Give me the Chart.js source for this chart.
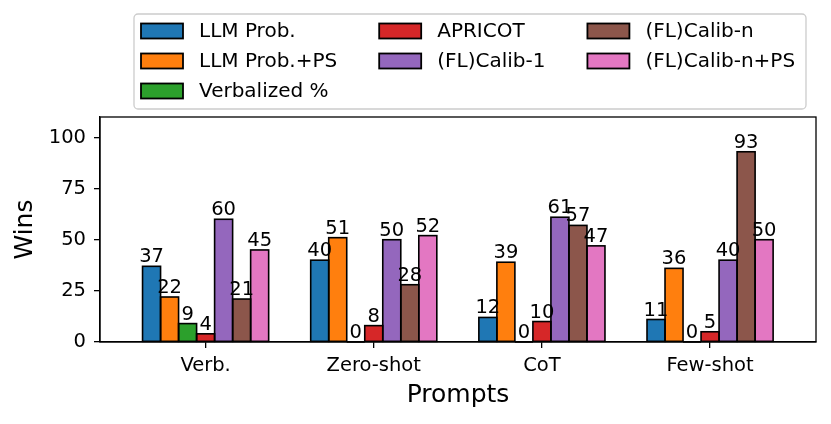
<!DOCTYPE html>
<html>
<head>
<meta charset="utf-8">
<script src="https://cdn.jsdelivr.net/npm/chart.js@4"></script>
<style>
  body { margin: 0; background: #fff; }
  #wrap { width: 831px; height: 424px; }
</style>
</head>
<body>
<div id="wrap"><canvas id="winsChart" width="831" height="424"></canvas></div>
<script>
// --- data ---
const categories = ['Verb.', 'Zero-shot', 'CoT', 'Few-shot'];
const seriesNames = ['LLM Prob.', 'LLM Prob.+PS', 'Verbalized %', 'APRICOT', '(FL)Calib-1', '(FL)Calib-n', '(FL)Calib-n+PS'];
const llmProb = [37, 40, 12, 11];
const llmProbPS = [22, 51, 39, 36];
const verbalized = [9, 0, 0, 0];
const apricot = [4, 8, 10, 5];
const calib1 = [60, 50, 61, 40];
const calibN = [21, 28, 57, 93];
const calibNPS = [45, 52, 47, 50];
const yTicks = [0, 25, 50, 75, 100];

const seriesValues = [llmProb, llmProbPS, verbalized, apricot, calib1, calibN, calibNPS];
const colors = ['#1f77b4', '#ff7f0e', '#2ca02c', '#d62728', '#9467bd', '#8c564b', '#e377c2'];

const FONT = "'DejaVu Sans', sans-serif";
const TICK_SIZE = 19.5;
const LEGEND_SIZE = 20;

// black edges centred on the bar outline (matplotlib edgecolor) + value labels on top
const barLabels = {
    id: 'barLabels',
    afterDatasetsDraw(chart) {
        const ctx = chart.ctx;
        ctx.save();
        ctx.strokeStyle = '#000';
        ctx.lineWidth = 1.6;
        chart.data.datasets.forEach((ds, di) => {
            chart.getDatasetMeta(di).data.forEach((bar) => {
                const w = bar.width;
                ctx.strokeRect(bar.x - w / 2, bar.y, w, bar.base - bar.y);
            });
        });
        ctx.font = TICK_SIZE + 'px ' + FONT;
        ctx.fillStyle = '#000';
        ctx.textAlign = 'center';
        ctx.textBaseline = 'alphabetic';
        chart.data.datasets.forEach((ds, di) => {
            chart.getDatasetMeta(di).data.forEach((bar, i) => {
                ctx.fillText(String(ds.data[i].y), bar.x, bar.y - 4);
            });
        });
        ctx.restore();
    }
};

// top/right spines, like matplotlib's box
const frame = {
    id: 'frame',
    afterDraw(chart) {
        const a = chart.chartArea, ctx = chart.ctx;
        ctx.save();
        ctx.strokeStyle = '#000';
        ctx.lineWidth = 1.3;
        ctx.strokeRect(a.left, a.top, a.right - a.left, a.bottom - a.top);
        ctx.restore();
    }
};

// 3-column legend filled column by column (matplotlib style: 3, 2, 2)
const gridLegend = {
    id: 'gridLegend',
    afterDraw(chart) {
        const ctx = chart.ctx;
        const ncol = 3, patchW = 42, patchH = 15, textPad = 16, colGap = 42;
        const boxL = 134, boxT = 14, boxR = 806, boxB = 109;
        ctx.save();
        ctx.beginPath();
        ctx.roundRect(boxL, boxT, boxR - boxL, boxB - boxT, 4);
        ctx.fillStyle = 'rgba(255,255,255,0.8)';
        ctx.fill();
        ctx.strokeStyle = '#cccccc';
        ctx.lineWidth = 1.3;
        ctx.stroke();

        ctx.font = LEGEND_SIZE + 'px ' + FONT;
        ctx.textBaseline = 'middle';
        const items = chart.data.datasets;
        const base = Math.floor(items.length / ncol), extra = items.length % ncol;
        let x = 141, start = 0;
        for (let c = 0; c < ncol; c++) {
            const n = base + (c < extra ? 1 : 0);
            const col = items.slice(start, start + n);
            start += n;
            let maxW = 0;
            col.forEach((ds, r) => {
                const y = 31 + r * 30;
                ctx.fillStyle = ds.backgroundColor;
                ctx.fillRect(x, y - patchH / 2, patchW, patchH);
                ctx.strokeStyle = '#000';
                ctx.lineWidth = 1.8;
                ctx.strokeRect(x, y - patchH / 2, patchW, patchH);
                ctx.fillStyle = '#000';
                ctx.fillText(ds.label, x + patchW + textPad, y + 1);
                maxW = Math.max(maxW, ctx.measureText(ds.label).width);
            });
            x += patchW + textPad + maxW + colGap;
        }
        ctx.restore();
    }
};

const canvas = document.getElementById('winsChart');
new Chart(canvas, {
    type: 'bar',
    data: {
        datasets: seriesNames.map((name, k) => ({
            label: name,
            data: seriesValues[k].map((v, i) => ({ x: i, y: v })),
            backgroundColor: colors[k],
            borderWidth: 0,
            inflateAmount: 0,
            categoryPercentage: 0.75,
            barPercentage: 1
        }))
    },
    options: {
        responsive: false,
        animation: false,
        devicePixelRatio: 1,
        layout: { padding: { top: 117, right: 15, left: 0, bottom: 0 } },
        plugins: {
            legend: { display: false },
            tooltip: { enabled: false }
        },
        scales: {
            x: {
                type: 'linear',
                offset: false,
                min: -0.628,
                max: 3.63,
                afterBuildTicks(scale) {
                    scale.ticks = categories.map((c, i) => ({ value: i }));
                },
                afterFit(scale) { scale.height = 82; },
                grid: {
                    offset: false,
                    drawOnChartArea: false,
                    drawTicks: true,
                    tickLength: 6,
                    color: '#000',
                    lineWidth: 1.3
                },
                border: { display: true, color: '#000', width: 1.3 },
                ticks: {
                    color: '#000',
                    padding: 6,
                    maxRotation: 0,
                    autoSkip: false,
                    font: { family: FONT, size: TICK_SIZE },
                    callback: (v) => categories[v]
                },
                title: {
                    display: true,
                    text: 'Prompts',
                    color: '#000',
                    font: { family: FONT, size: 25 },
                    padding: { top: 0, bottom: 14 }
                }
            },
            y: {
                min: 0,
                max: 110,
                afterBuildTicks(scale) {
                    scale.ticks = yTicks.map(v => ({ value: v }));
                },
                afterFit(scale) { scale.width = 100; },
                grid: {
                    drawOnChartArea: false,
                    drawTicks: true,
                    tickLength: 6,
                    color: '#000',
                    lineWidth: 1.3
                },
                border: { display: true, color: '#000', width: 1.3 },
                ticks: {
                    color: '#000',
                    padding: 8,
                    font: { family: FONT, size: TICK_SIZE }
                },
                title: {
                    display: true,
                    text: 'Wins',
                    color: '#000',
                    font: { family: FONT, size: 25 },
                    padding: { top: 10, bottom: 0 }
                }
            }
        }
    },
    plugins: [barLabels, frame, gridLegend]
});
</script>
</body>
</html>
